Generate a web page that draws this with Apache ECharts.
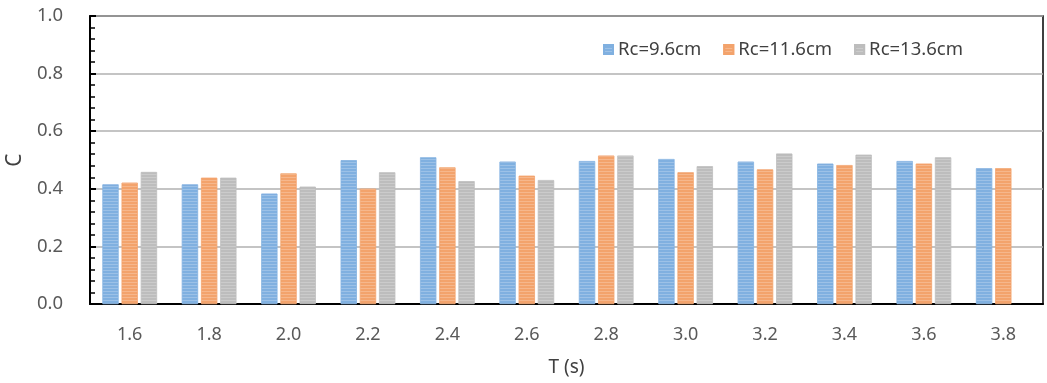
<!DOCTYPE html>
<html>
<head>
<meta charset="utf-8">
<script src="https://cdn.jsdelivr.net/npm/echarts@6/dist/echarts.min.js"></script>
<style>html,body{margin:0;padding:0;background:#fff}#c{width:1047px;height:383px}</style>
</head>
<body>
<div id="c"></div>
<script>
const categories = ['1.6','1.8','2.0','2.2','2.4','2.6','2.8','3.0','3.2','3.4','3.6','3.8'];
const rc96  = [0.415,0.415,0.383,0.499,0.509,0.494,0.496,0.503,0.494,0.487,0.496,0.471];
const rc116 = [0.421,0.438,0.453,0.400,0.474,0.445,0.515,0.457,0.467,0.482,0.487,0.471];
const rc136 = [0.458,0.438,0.407,0.457,0.426,0.430,0.515,0.478,0.522,0.518,0.509,null];
const seriesNames = ['Rc=9.6cm','Rc=11.6cm','Rc=13.6cm'];
const yTicks = [0,0.2,0.4,0.6,0.8,1.0];

const colors = ['#80b0e0','#f3a36c','#bdbdbd'];
const stripe = {symbol:'rect', dashArrayX:[1,0], dashArrayY:[1,2], rotation:0, color:'rgba(255,255,255,0.22)', symbolSize:1};
const font = 'Noto Sans';
const chart = echarts.init(document.getElementById('c'));
const mk = (name, data, i) => ({
  name, type:'bar', data,
  barWidth: 16, barGap: '20%',
  itemStyle:{color:colors[i], borderColor:colors[i], borderWidth:0.5, decal: stripe}
});
chart.setOption({
  animation:false,
  textStyle:{fontFamily:font},
  grid:{left:90, right:4, top:16, bottom:79, containLabel:false, outerBoundsMode:'none',
        show:true, borderColor:'#000', borderWidth:1.5, backgroundColor:'transparent'},
  legend:{
    data:seriesNames, left:598, top:35, itemWidth:9, itemHeight:9, itemGap:22, icon:'rect',
    textStyle:{fontSize:18.5, color:'#404040', fontFamily:font}
  },
  xAxis:{
    type:'category', data:categories,
    name:'T (s)', nameLocation:'middle', nameGap:54,
    nameTextStyle:{fontSize:19, color:'#404040', fontFamily:font},
    axisLine:{lineStyle:{color:'#000', width:2}},
    axisTick:{show:false},
    axisLabel:{fontSize:18, color:'#595959', margin:22, fontFamily:font}
  },
  yAxis:{
    type:'value', min:0, max:1, interval:0.2,
    name:'C', nameLocation:'middle', nameGap:63,
    nameTextStyle:{fontSize:21, color:'#404040', fontFamily:font},
    axisLine:{show:true, lineStyle:{color:'#000', width:2}},
    axisTick:{show:true, inside:true, length:6, lineStyle:{color:'#000', width:2}},
    minorTick:{show:true, splitNumber:5, length:5, lineStyle:{color:'#000', width:1.5}},
    splitLine:{lineStyle:{color:'#b0b0b0', width:1.5}},
    axisLabel:{fontSize:18.5, color:'#595959', margin:27, fontFamily:font,
      formatter:v=>yTicks.includes(Math.round(v*10)/10)? v.toFixed(1):''}
  },
  series:[mk(seriesNames[0],rc96,0), mk(seriesNames[1],rc116,1), mk(seriesNames[2],rc136,2)]
});
</script>
</body>
</html>
